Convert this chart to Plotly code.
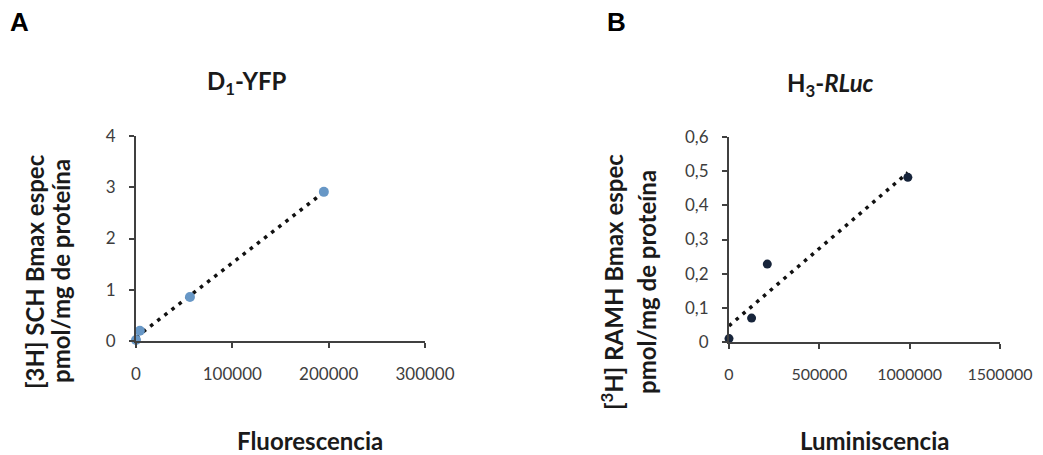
import numpy as np
import plotly.graph_objects as go

# ---- data ----
a_x = [0, 4000, 56000, 195000]
a_y = [0.02, 0.2, 0.86, 2.91]
b_x = [0, 125000, 212000, 990000]
b_y = [0.01, 0.07, 0.228, 0.482]

a_xticks = [0, 100000, 200000, 300000]
a_xticktext = ["0", "100000", "200000", "300000"]
a_yticks = [0, 1, 2, 3, 4]
a_yticktext = ["0", "1", "2", "3", "4"]
b_xticks = [0, 500000, 1000000, 1500000]
b_xticktext = ["0", "500000", "1000000", "1500000"]
b_yticks = [0, 0.1, 0.2, 0.3, 0.4, 0.5, 0.6]
b_yticktext = ["0", "0,1", "0,2", "0,3", "0,4", "0,5", "0,6"]

# page body has an 8px default margin, so the figure starts at (8, 8)
OFF = 8
W, H = 1043 - OFF, 455 - OFF
FONT = "Lato"
TICK_COLOR = "#3d3d3d"
AXIS_COLOR = "#404040"


def px_x(p):
    return (p - OFF) / W


def px_y(p):
    return 1 - (p - OFF) / H


def trend(xs, ys):
    k, c = np.polyfit(xs, ys, 1)
    xx = [min(xs), max(xs)]
    return xx, [k * v + c for v in xx]


fig = go.Figure()

ta_x, ta_y = trend(a_x, a_y)
tb_x, tb_y = trend(b_x, b_y)

fig.add_trace(go.Scatter(x=ta_x, y=ta_y, mode="lines", xaxis="x", yaxis="y",
                         line=dict(color="#111111", width=3.5, dash="3.5px,5.5px"),
                         cliponaxis=False, hoverinfo="skip"))
fig.add_trace(go.Scatter(x=a_x, y=a_y, mode="markers", xaxis="x", yaxis="y",
                         marker=dict(color="#6797c6", size=10, line=dict(width=0)),
                         cliponaxis=False))
fig.add_trace(go.Scatter(x=tb_x, y=tb_y, mode="lines", xaxis="x2", yaxis="y2",
                         line=dict(color="#111111", width=3.5, dash="3.5px,5.5px"),
                         cliponaxis=False, hoverinfo="skip"))
fig.add_trace(go.Scatter(x=b_x, y=b_y, mode="markers", xaxis="x2", yaxis="y2",
                         marker=dict(color="#17243a", size=9, line=dict(width=0)),
                         cliponaxis=False))

axis_common = dict(showline=True, linecolor=AXIS_COLOR, linewidth=2, ticks="outside",
                   tickcolor=AXIS_COLOR, tickwidth=1.5, ticklen=5, showgrid=False,
                   zeroline=False, tickfont=dict(family=FONT, size=17, color=TICK_COLOR),
                   tickmode="array", fixedrange=True, automargin=False,
                   ticklabeloverflow="allow")

fig.update_layout(
    template="none",
    width=W, height=H,
    margin=dict(l=0, r=0, t=0, b=0, autoexpand=False),
    paper_bgcolor="white", plot_bgcolor="white",
    showlegend=False,
    xaxis=dict(axis_common, domain=[px_x(136), px_x(425)], range=[0, 300000],
               tickvals=a_xticks, ticktext=a_xticktext, anchor="y",
               ticklabelstandoff=12),
    yaxis=dict(axis_common, domain=[px_y(341), px_y(136)], range=[0, 4],
               tickvals=a_yticks, ticktext=a_yticktext, anchor="x",
               ticklabelstandoff=10),
    xaxis2=dict(axis_common, domain=[px_x(729), px_x(1000)], range=[0, 1500000],
                tickvals=b_xticks, ticktext=b_xticktext, anchor="y2",
                ticklabelstandoff=12,
                tickfont=dict(family=FONT, size=16, color=TICK_COLOR)),
    yaxis2=dict(axis_common, domain=[px_y(342), px_y(137)], range=[0, 0.6],
                tickvals=b_yticks, ticktext=b_yticktext, anchor="x2",
                ticklabelstandoff=10),
)

def ann(text, x, y, size, angle=0, color="#1a1a1a", family=FONT):
    fig.add_annotation(text=text, x=px_x(x), y=px_y(y), xref="paper", yref="paper",
                       showarrow=False, textangle=angle, xanchor="center", yanchor="middle",
                       font=dict(family=family, size=size, color=color))

ann("<b>A</b>", 19, 22, 26, family="Liberation Sans", color="#000000")
ann("<b>B</b>", 616, 22, 26, family="Liberation Sans", color="#000000")
ann("<b>D<sub>1</sub>-YFP</b>", 247, 83, 24)
ann("<b>H<sub>3</sub>-<i>RLuc</i></b>", 830, 85, 24)
ann("<b>Fluorescencia</b>", 310, 440, 24)
ann("<b>Luminiscencia</b>", 874, 440, 24)
ann("<b>[3H] SCH Bmax espec</b>", 34, 272, 24, angle=-90)
ann("<b>pmol/mg de proteína</b>", 60, 271, 24, angle=-90)
ann("<b>[<sup>3</sup>H] RAMH Bmax espec</b>", 612, 282, 24, angle=-90)
ann("<b>pmol/mg de proteína</b>", 646, 282, 24, angle=-90)

fig.write_html("out.html")
